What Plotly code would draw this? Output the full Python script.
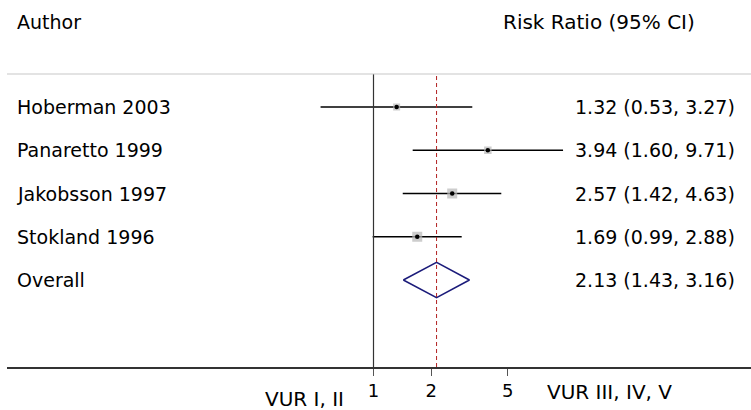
import plotly.graph_objects as go

# ---- data ----
authors = ["Hoberman 2003", "Panaretto 1999", "Jakobsson 1997", "Stokland 1996"]
rr = [1.32, 3.94, 2.57, 1.69]
lo = [0.53, 1.60, 1.42, 0.99]
hi = [3.27, 9.71, 4.63, 2.88]
weights = [7, 7.5, 10, 10]          # box size (relative study weight)
overall_label = "Overall"
overall_rr = 2.13
overall_lo = 1.43
overall_hi = 3.16
tick_vals = [1, 2, 5]
tick_text = ["1", "2", "5"]
header_left = "Author"
header_right = "Risk Ratio (95% CI)"
left_axis_label = "VUR I, II"
right_axis_label = "VUR III, IV, V"

rows = list(range(1, len(authors) + 1))
overall_row = len(authors) + 1

FONT = "DejaVu Sans"
W, H = 751, 410
ML, MR, MT, MB = 7, 0, 74, 43
PW = W - ML - MR
PH = H - MT - MB
PX_PER_DEC = 192.0
X1_PX = 373.5 - ML
xr = [-X1_PX / PX_PER_DEC, (PW - X1_PX) / PX_PER_DEC]
ROW_PX = 43.25
top_units = (107 - MT) / ROW_PX
yr = [1 - top_units + PH / ROW_PX, 1 - top_units]

fig = go.Figure()

# CI lines
for r, l, h in zip(rows, lo, hi):
    fig.add_trace(go.Scatter(x=[l, h], y=[r, r], mode="lines",
                             line=dict(color="black", width=1.5),
                             hoverinfo="skip", showlegend=False))
# weight boxes
fig.add_trace(go.Scatter(x=rr, y=rows, mode="markers",
                         marker=dict(symbol="square", size=weights, color="#b8b8b8",
                                     line=dict(width=0)),
                         hoverinfo="skip", showlegend=False))
# point estimates
fig.add_trace(go.Scatter(x=rr, y=rows, mode="markers",
                         marker=dict(symbol="circle", size=4.5, color="black"),
                         hoverinfo="skip", showlegend=False))
# overall diamond
dh = 0.41
fig.add_trace(go.Scatter(
    x=[overall_lo, overall_rr, overall_hi, overall_rr, overall_lo],
    y=[overall_row, overall_row - dh, overall_row, overall_row + dh, overall_row],
    mode="lines", line=dict(color="#1b1b7a", width=1.5),
    hoverinfo="skip", showlegend=False))

shapes = [
    dict(type="line", xref="x", yref="paper", x0=1, x1=1, y0=0, y1=1,
         line=dict(color="#333333", width=1.2)),
    dict(type="line", xref="x", yref="paper", x0=overall_rr, x1=overall_rr, y0=0, y1=1,
         line=dict(color="#b22222", width=1, dash="4px,3px")),
    dict(type="line", xref="paper", yref="paper", x0=0, x1=1, y0=1, y1=1,
         line=dict(color="#c8c8c8", width=1.2)),
]

def px_x(px):
    return (px - ML) / PW

def px_y(py):
    return (H - MB - py) / PH

ann = []
ann.append(dict(text=header_left, x=px_x(15), y=px_y(21.5), xref="paper", yref="paper",
                xanchor="left", yanchor="middle", showarrow=False,
                font=dict(family=FONT, size=19, color="black")))
ann.append(dict(text=header_right, x=px_x(697), y=px_y(22.5), xref="paper", yref="paper",
                xanchor="right", yanchor="middle", showarrow=False,
                font=dict(family=FONT, size=20, color="black")))
labels = authors + [overall_label]
vals = [f"{a:.2f} ({b:.2f}, {c:.2f})" for a, b, c in zip(rr, lo, hi)] + \
       [f"{overall_rr:.2f} ({overall_lo:.2f}, {overall_hi:.2f})"]
for r, lab, v in zip(rows + [overall_row], labels, vals):
    ann.append(dict(text=lab, x=px_x(15), y=r, xref="paper", yref="y",
                    xanchor="left", yanchor="middle", showarrow=False,
                    font=dict(family=FONT, size=19, color="black")))
    ann.append(dict(text=v, x=px_x(737), y=r, xref="paper", yref="y",
                    xanchor="right", yanchor="middle", showarrow=False,
                    font=dict(family=FONT, size=19, color="black")))
ann.append(dict(text=left_axis_label, x=px_x(304.5), y=px_y(398.5), xref="paper", yref="paper",
                xanchor="center", yanchor="middle", showarrow=False,
                font=dict(family=FONT, size=20, color="black")))
ann.append(dict(text=right_axis_label, x=px_x(609), y=px_y(392), xref="paper", yref="paper",
                xanchor="center", yanchor="middle", showarrow=False,
                font=dict(family=FONT, size=20, color="black")))

fig.update_layout(
    width=W, height=H,
    margin=dict(l=ML, r=MR, t=MT, b=MB, pad=0),
    paper_bgcolor="white", plot_bgcolor="white",
    shapes=shapes, annotations=ann, showlegend=False,
    xaxis=dict(type="log", range=xr, showgrid=False, zeroline=False,
               showline=True, linecolor="#333333", linewidth=1.5,
               tickmode="array", tickvals=tick_vals, ticktext=tick_text,
               ticks="outside", ticklen=7, tickcolor="#555555", tickwidth=1,
               ticklabelstandoff=0,
               tickfont=dict(family=FONT, size=18, color="black"), fixedrange=True),
    yaxis=dict(range=yr, autorange=False, showgrid=False, zeroline=False,
               showline=False, showticklabels=False, fixedrange=True),
)

fig.write_html("out.html")
